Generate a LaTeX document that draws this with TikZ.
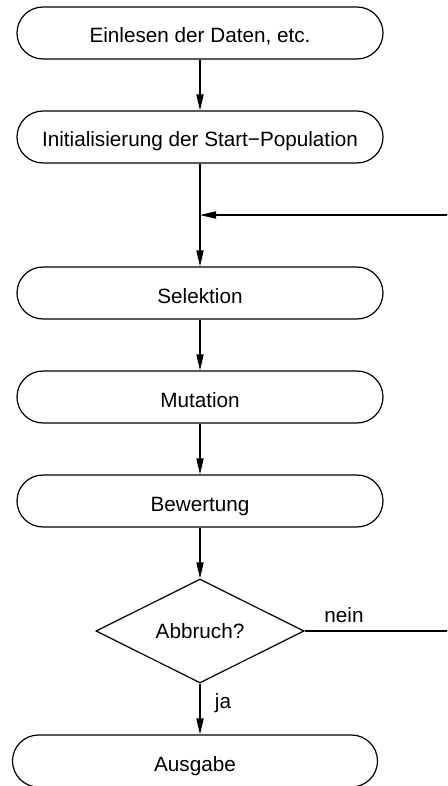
\documentclass[tikz,border=0pt]{standalone}
\usepackage{fontspec}
\setmainfont{Liberation Sans}
\usetikzlibrary{arrows.meta,shapes.geometric}

\begin{document}
\begin{tikzpicture}[x=0.5pt,y=-0.5pt,>={Triangle[length=8pt,width=3.6pt]},line width=0.6pt,
		font=\fontsize{10.35}{12}\selectfont,
		stepbox/.style={draw, rounded corners=13pt, minimum width=183pt, minimum height=26pt, inner sep=0pt, text height=1em, text depth=0pt},
		decision/.style={draw, diamond, minimum width=104pt, minimum height=52pt, inner sep=0pt}]
			\useasboundingbox (0,0) rectangle (447,786);
			\clip (0,0) rectangle (447,786);

			\node (einlesen) [stepbox] at (200,33) {Einlesen der Daten, etc.};
			\node (init) [stepbox] at (200,137) {Initialisierung der Start−Population};
			\coordinate (merge) at (200,215);
			\node (selektion) [stepbox] at (200,293) {Selektion};
			\node (mutation) [stepbox] at (200,397) {Mutation};
			\node (bewertung) [stepbox] at (200,501) {Bewertung};
			\node (abbruch) [decision] at (200,631) {Abbruch?};
			\node (ausgabe) [stepbox, minimum width=182.5pt] at (195,761) {Ausgabe};

			\coordinate (loopE) at (470,631);
			\coordinate (loopN) at (470,215);

			\draw [->] (einlesen) -- (init);
			\draw (init) -- (merge);
			\draw [->] (merge) -- (selektion);
			\draw [->] (selektion) -- (mutation);
			\draw [->] (mutation) -- (bewertung);
			\draw [->] (bewertung) -- (abbruch);
			\draw [->] (abbruch.south) -- (abbruch.south |- ausgabe.north);
			\draw (abbruch.east) -- (loopE) -- (loopN);
			\draw [->] (loopN) -- (merge);

			\node (nein) [anchor=base] at (344,622) {nein};
			\node (ja) [anchor=base] at (223,708) {ja};
		\end{tikzpicture}
\end{document}
